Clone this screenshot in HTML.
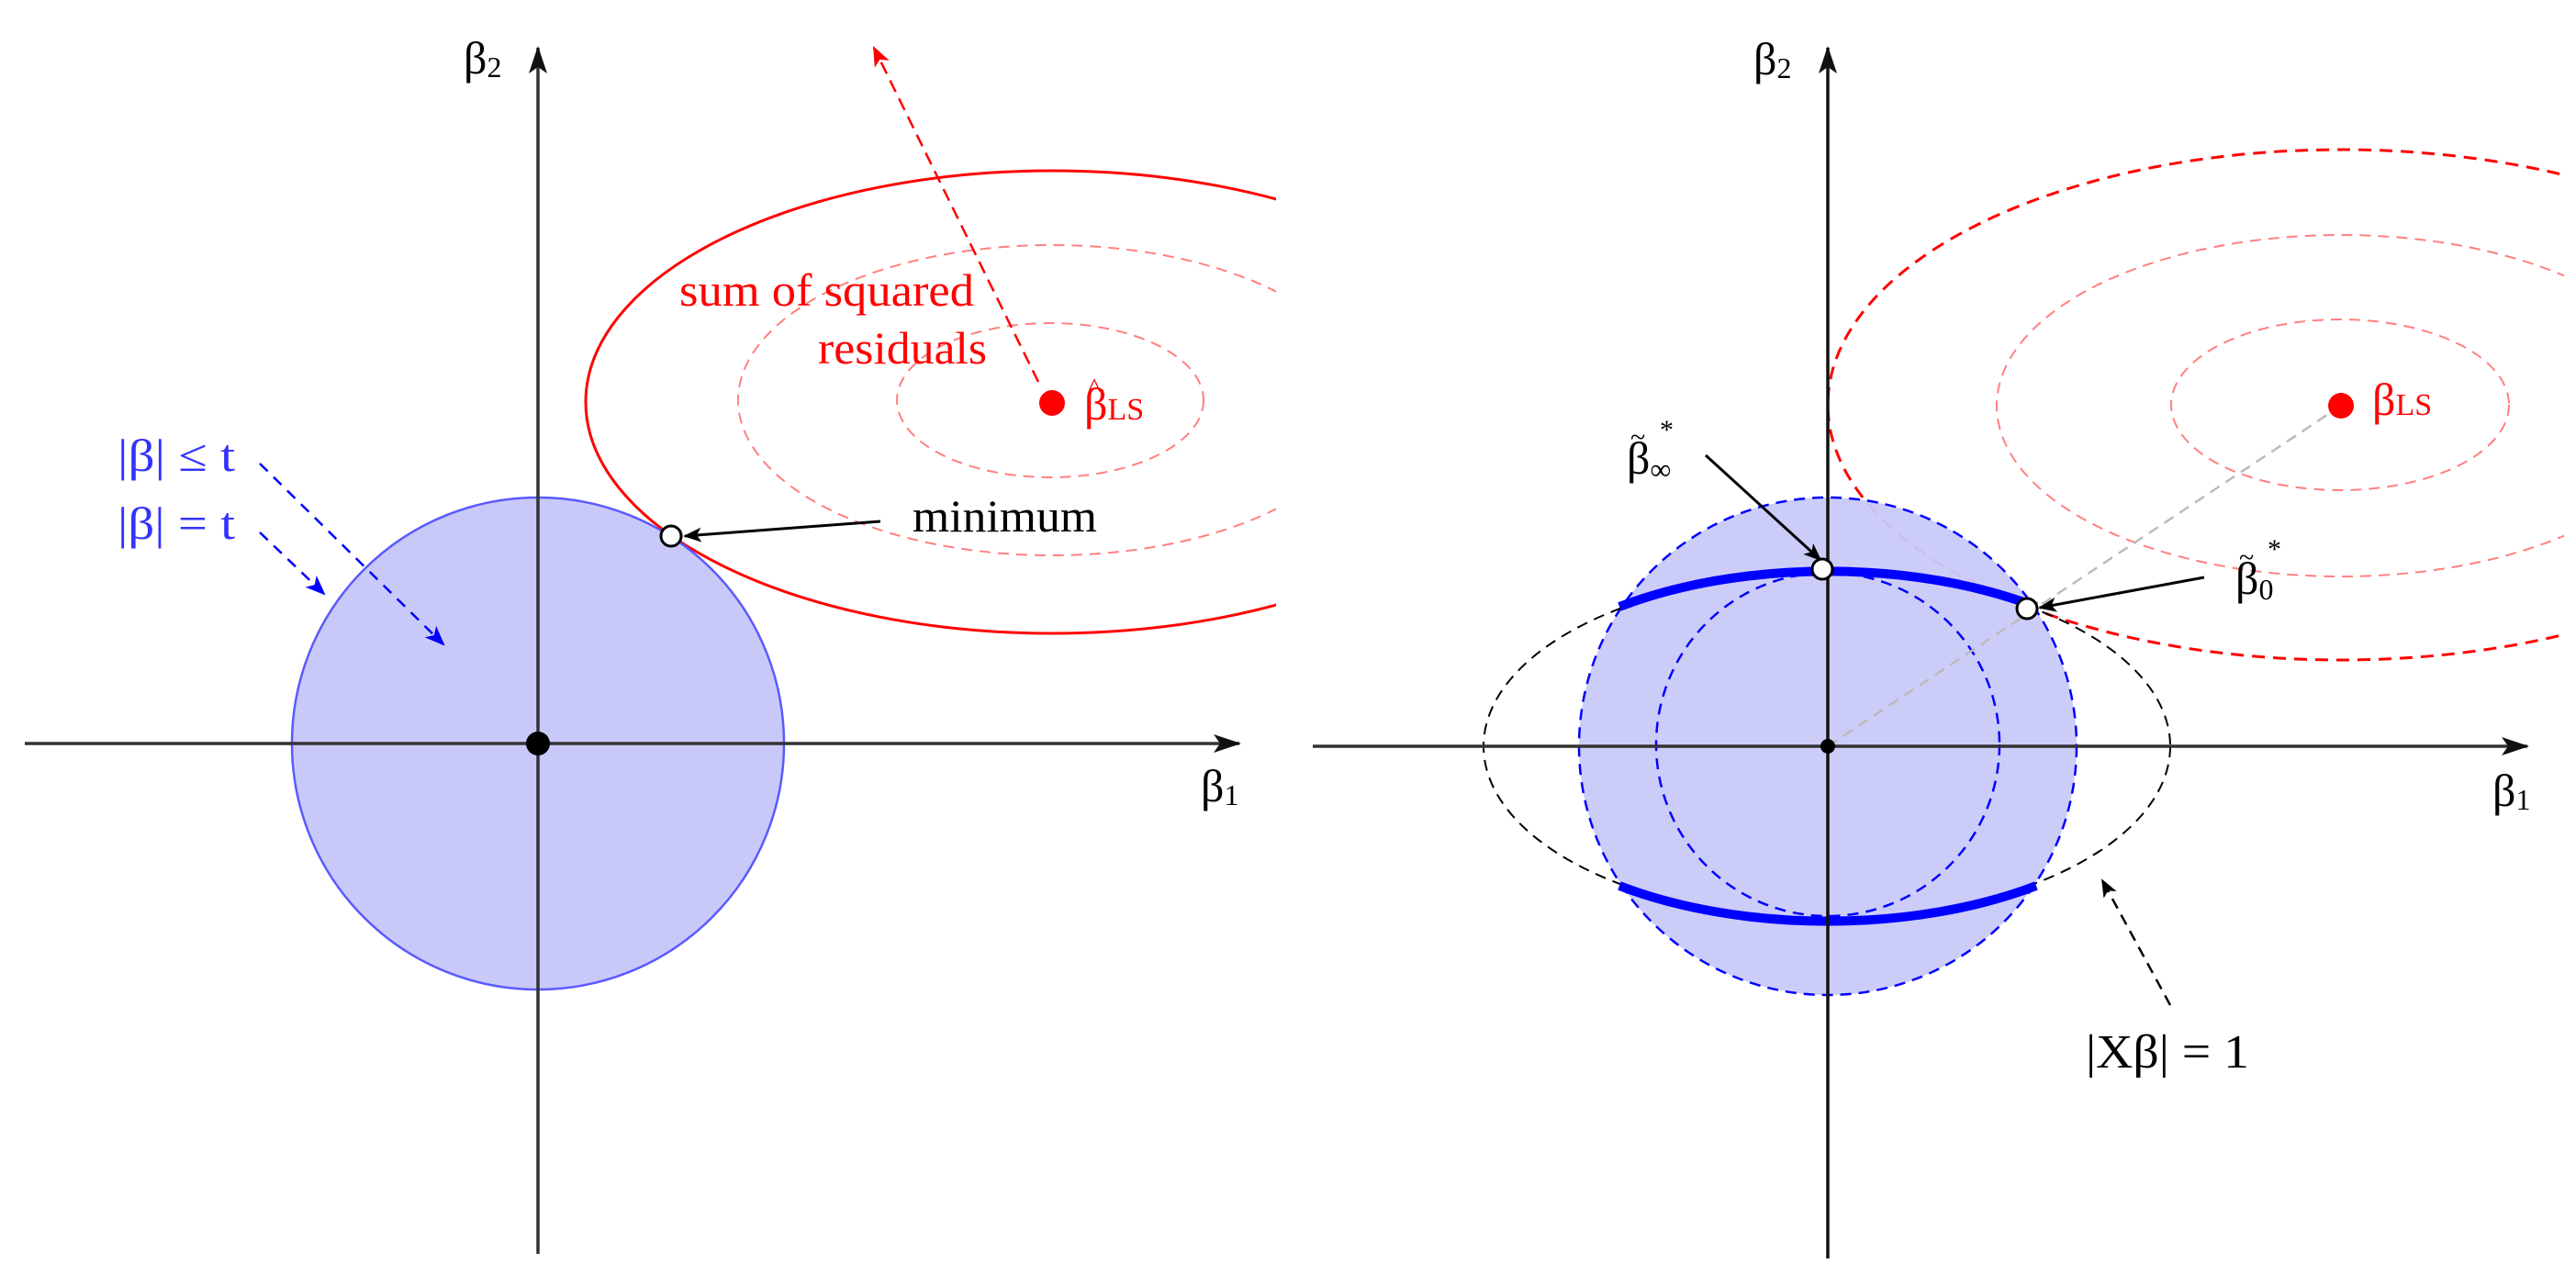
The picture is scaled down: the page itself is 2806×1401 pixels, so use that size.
<!DOCTYPE html>
<html><head><meta charset="utf-8"><style>
html,body{margin:0;padding:0;background:#fff}
svg{display:block}
text{font-family:"Liberation Serif",serif}
</style></head><body>
<svg width="2806" height="1401" viewBox="0 0 2806 1401" xmlns="http://www.w3.org/2000/svg">
<defs>
<marker id="ak" viewBox="0 0 20 20" refX="18" refY="10" markerWidth="20" markerHeight="20" markerUnits="userSpaceOnUse" orient="auto"><path d="M0,2 L20,10 L0,18 L5,10 Z" fill="#000"/></marker>
<marker id="ak2" viewBox="0 0 30 24" refX="28" refY="12" markerWidth="30" markerHeight="24" markerUnits="userSpaceOnUse" orient="auto"><path d="M0,2 L30,12 L0,22 L7,12 Z" fill="#111"/></marker>
<marker id="ar" viewBox="0 0 20 20" refX="18" refY="10" markerWidth="22" markerHeight="22" markerUnits="userSpaceOnUse" orient="auto"><path d="M0,2 L20,10 L0,18 L5,10 Z" fill="#f00"/></marker>
<marker id="ab" viewBox="0 0 20 20" refX="18" refY="10" markerWidth="22" markerHeight="22" markerUnits="userSpaceOnUse" orient="auto"><path d="M0,2 L20,10 L0,18 L5,10 Z" fill="#00f"/></marker>
<clipPath id="cl"><rect x="0" y="0" width="1390" height="1401"/></clipPath>
<clipPath id="cr"><rect x="1403" y="0" width="1390" height="1401"/></clipPath>
</defs>

<!-- LEFT PANEL -->
<g clip-path="url(#cl)">
<ellipse cx="1146" cy="438" rx="508" ry="252" fill="none" stroke="#f00" stroke-width="3"/>
<ellipse cx="1146" cy="436" rx="342" ry="169" fill="none" stroke="#ff8080" stroke-width="2" stroke-dasharray="12,8"/>
<ellipse cx="1144" cy="436" rx="167" ry="84" fill="none" stroke="#ff8080" stroke-width="2" stroke-dasharray="12,8"/>
</g>
<circle cx="586" cy="810" r="268" fill="#c9c9f9" stroke="#5a5aff" stroke-width="2.5"/>
<line x1="27" y1="810" x2="1350" y2="810" stroke="#333" stroke-width="3.5" marker-end="url(#ak2)"/>
<line x1="586" y1="1366" x2="586" y2="52" stroke="#333" stroke-width="3.5" marker-end="url(#ak2)"/>
<circle cx="586" cy="810" r="13" fill="#000"/>
<circle cx="1146" cy="439" r="14" fill="#f00"/>
<line x1="1131" y1="416" x2="952" y2="52" stroke="#f00" stroke-width="2.5" stroke-dasharray="14,8" marker-end="url(#ar)"/>
<line x1="959" y1="568" x2="746" y2="584" stroke="#000" stroke-width="3" marker-end="url(#ak)"/>
<circle cx="731" cy="584" r="11" fill="#fff" stroke="#000" stroke-width="3"/>
<line x1="283" y1="505" x2="483" y2="702" stroke="#00f" stroke-width="2.5" stroke-dasharray="12,9" marker-end="url(#ab)"/>
<line x1="283" y1="580" x2="353" y2="647" stroke="#00f" stroke-width="2.5" stroke-dasharray="12,9" marker-end="url(#ab)"/>

<text x="740" y="333" font-size="50" fill="#f00" textLength="321" lengthAdjust="spacingAndGlyphs">sum of squared</text>
<text x="891" y="396" font-size="50" fill="#f00" textLength="184" lengthAdjust="spacingAndGlyphs">residuals</text>
<text x="1181" y="457" font-size="50" fill="#f00">β<tspan font-size="34">LS</tspan></text>
<text x="1185" y="432" font-size="30" fill="#f00">^</text>
<text x="994" y="579" font-size="50" fill="#000" textLength="201" lengthAdjust="spacingAndGlyphs">minimum</text>
<text x="505" y="80" font-size="50" fill="#000">β<tspan font-size="32" dy="4">2</tspan></text>
<text x="1308" y="873" font-size="50" fill="#000">β<tspan font-size="32" dy="4">1</tspan></text>
<text x="128" y="513" font-size="50" fill="#33f" textLength="128" lengthAdjust="spacingAndGlyphs">|β| ≤ t</text>
<text x="128" y="587" font-size="50" fill="#33f" textLength="128" lengthAdjust="spacingAndGlyphs">|β| = t</text>

<!-- RIGHT PANEL -->
<g clip-path="url(#cr)">
<ellipse cx="2550" cy="441" rx="559" ry="278" fill="none" stroke="#f00" stroke-width="3" stroke-dasharray="14,9"/>
<ellipse cx="2550" cy="442" rx="375" ry="186" fill="none" stroke="#ff8080" stroke-width="2" stroke-dasharray="12,8"/>
<ellipse cx="2549" cy="441" rx="184" ry="93" fill="none" stroke="#ff8080" stroke-width="2" stroke-dasharray="12,8"/>
</g>
<circle cx="1991" cy="813" r="271" fill="#c9c9f9" fill-opacity="0.95" stroke="#00f" stroke-width="2.5" stroke-dasharray="12,8"/>
<circle cx="1991" cy="811" r="187" fill="none" stroke="#00f" stroke-width="2.5" stroke-dasharray="12,8"/>
<ellipse cx="1990" cy="813" rx="374" ry="188" fill="none" stroke="#000" stroke-width="2" stroke-dasharray="12,8"/>
<path d="M1764,661 A374,188 0 0 1 2218,661" fill="none" stroke="#00f" stroke-width="10"/>
<path d="M1764,965 A374,188 0 0 0 2218,965" fill="none" stroke="#00f" stroke-width="10"/>
<line x1="1991" y1="813" x2="2550" y2="442" stroke="#bbb" stroke-width="2.5" stroke-dasharray="12,8"/>
<line x1="1430" y1="813" x2="2753" y2="813" stroke="#333" stroke-width="3.5" marker-end="url(#ak2)"/>
<line x1="1991" y1="1371" x2="1991" y2="52" stroke="#111" stroke-width="3.5" marker-end="url(#ak2)"/>
<circle cx="1991" cy="813" r="8" fill="#000"/>
<circle cx="2550" cy="442" r="14" fill="#f00"/>
<line x1="1858" y1="496" x2="1983" y2="610" stroke="#000" stroke-width="3" marker-end="url(#ak)"/>
<line x1="2401" y1="629" x2="2222" y2="662" stroke="#000" stroke-width="3" marker-end="url(#ak)"/>
<circle cx="1985" cy="620" r="11" fill="#fff" stroke="#000" stroke-width="3"/>
<circle cx="2208" cy="663" r="11" fill="#fff" stroke="#000" stroke-width="3"/>
<line x1="2364" y1="1095" x2="2290" y2="959" stroke="#000" stroke-width="2.5" stroke-dasharray="12,8" marker-end="url(#ak)"/>

<text x="2584" y="452" font-size="50" fill="#f00">β<tspan font-size="34">LS</tspan></text>
<text x="1772" y="516" font-size="50" fill="#000">β<tspan font-size="32" dy="6">∞</tspan></text>
<text x="1776" y="486" font-size="30" fill="#000">~</text>
<text x="1808" y="478" font-size="30" fill="#000">*</text>
<text x="2435" y="647" font-size="50" fill="#000">β<tspan font-size="32" dy="6">0</tspan></text>
<text x="2439" y="617" font-size="30" fill="#000">~</text>
<text x="2470" y="608" font-size="30" fill="#000">*</text>
<text x="2272" y="1163" font-size="52" fill="#000" textLength="178" lengthAdjust="spacingAndGlyphs">|Xβ| = 1</text>
<text x="1910" y="81" font-size="50" fill="#000">β<tspan font-size="32" dy="4">2</tspan></text>
<text x="2715" y="878" font-size="50" fill="#000">β<tspan font-size="32" dy="4">1</tspan></text>
</svg>
</body></html>
